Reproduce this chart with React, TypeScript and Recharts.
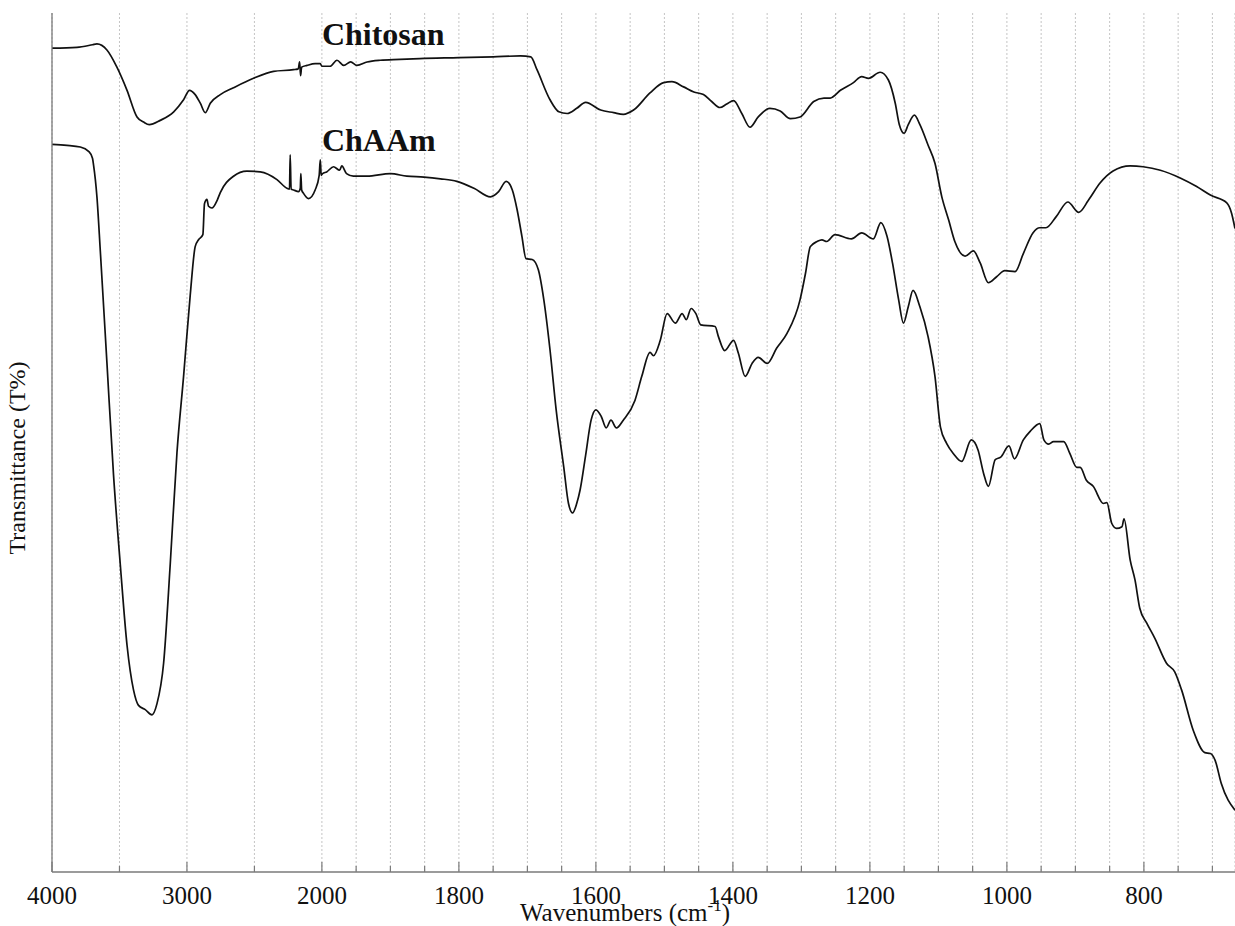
import { CartesianGrid, Label, Line, LineChart, ReferenceDot, XAxis, YAxis } from "recharts";

// FTIR spectra, transmittance (arb. %) vs wavenumber (cm-1)
const chitosanWn = [
  4000, 3815, 3700, 3667, 3593, 3519, 3444, 3370, 3321, 3279,
  3198, 3098, 3025, 2981, 2939, 2901, 2864, 2827, 2753, 2655,
  2507, 2358, 2210, 2175, 2165, 2158, 2150, 2110, 2050, 2012,
  2000, 1988, 1978, 1968, 1958, 1949, 1934, 1915, 1886, 1857,
  1800, 1750, 1710, 1695, 1686, 1667, 1654, 1642, 1628, 1615,
  1593, 1574, 1560, 1545, 1521, 1501, 1489, 1472, 1457, 1443,
  1431, 1419, 1409, 1399, 1387, 1375, 1363, 1346, 1331, 1316,
  1302, 1282, 1267, 1258, 1243, 1224, 1212, 1202, 1185, 1173,
  1163, 1157, 1150, 1144, 1135, 1127, 1115, 1105, 1095, 1085,
  1076, 1061, 1049, 1039, 1027, 1015, 1003, 988, 976, 962,
  952, 943, 928, 911, 895, 881, 864, 845, 820, 801,
  776, 747, 723, 703, 679, 672, 667,
];
const chitosanT = [
  95.9, 96.0, 96.3, 96.4, 95.7, 93.7, 91.0, 87.9, 87.3, 87.0,
  87.5, 88.5, 89.9, 91.0, 90.5, 89.5, 88.4, 89.5, 90.5, 91.3,
  92.4, 93.2, 93.4, 93.5, 94.3, 92.7, 93.7, 93.9, 94.1, 94.1,
  93.8, 93.8, 94.5, 93.9, 94.3, 93.9, 94.3, 94.5, 94.6, 94.7,
  94.8, 94.9, 95.0, 94.9, 93.4, 89.9, 88.5, 88.3, 88.9, 89.6,
  88.7, 88.4, 88.2, 88.7, 90.7, 91.9, 92.0, 91.4, 90.8, 90.5,
  89.7, 89.0, 89.4, 89.8, 88.3, 86.7, 87.9, 88.9, 88.6, 87.7,
  87.9, 89.7, 90.1, 90.1, 91.0, 91.9, 92.6, 92.4, 93.1, 92.2,
  89.5, 87.0, 86.0, 87.0, 88.1, 87.0, 84.6, 82.5, 78.6, 75.9,
  73.4, 71.7, 72.3, 70.9, 68.6, 69.3, 70.0, 69.9, 72.0, 74.4,
  75.0, 75.0, 76.3, 78.0, 76.8, 78.2, 80.2, 81.6, 82.2, 82.1,
  81.7, 80.8, 79.8, 78.8, 77.9, 76.7, 74.9,
];

const chaamWn = [
  4000, 3889, 3790, 3729, 3700, 3692, 3667, 3642, 3593, 3544,
  3494, 3444, 3396, 3359, 3309, 3259, 3222, 3173, 3124, 3074,
  3025, 2976, 2939, 2914, 2882, 2870, 2852, 2840, 2815, 2776,
  2753, 2655, 2556, 2457, 2333, 2259, 2240, 2235, 2228, 2210,
  2173, 2160, 2156, 2150, 2136, 2099, 2050, 2020, 2012, 2005,
  1999, 1993, 1983, 1974, 1971, 1964, 1954, 1934, 1900, 1876,
  1851, 1827, 1803, 1778, 1754, 1742, 1731, 1722, 1715, 1708,
  1702, 1693, 1684, 1676, 1667, 1658, 1647, 1640, 1634, 1628,
  1623, 1615, 1607, 1600, 1592, 1585, 1578, 1570, 1560, 1543,
  1533, 1521, 1516, 1506, 1496, 1484, 1474, 1468, 1461, 1454,
  1447, 1426, 1421, 1412, 1399, 1392, 1382, 1372, 1363, 1350,
  1336, 1321, 1302, 1294, 1287, 1277, 1270, 1263, 1251, 1227,
  1212, 1195, 1184, 1175, 1167, 1158, 1151, 1144, 1137, 1127,
  1115, 1105, 1097, 1088, 1078, 1066, 1052, 1042, 1034, 1027,
  1017, 1009, 997, 989, 976, 966, 952, 946, 939, 932,
  917, 908, 898, 893, 884, 874, 859, 854, 847, 840,
  832, 829, 820, 813, 806, 796, 784, 767, 755, 745,
  728, 711, 703, 696, 687, 667,
];
const chaamT = [
  84.7, 84.6, 84.4, 83.9, 83.1, 82.3, 78.6, 72.3, 59.3, 46.2,
  35.8, 26.4, 21.2, 19.4, 18.9, 18.3, 19.6, 24.3, 35.8, 48.8,
  57.7, 67.1, 72.8, 73.6, 74.2, 77.8, 78.3, 77.5, 77.3, 78.2,
  79.1, 81.0, 81.6, 81.5, 80.6, 79.6, 79.5, 83.5, 79.5, 79.4,
  79.2, 79.6, 81.3, 79.4, 79.0, 78.4, 79.4, 81.1, 82.9, 81.1,
  81.3, 81.5, 82.1, 81.7, 82.2, 81.3, 81.0, 81.0, 81.3, 81.0,
  80.9, 80.7, 80.4, 79.6, 78.6, 79.2, 80.4, 79.4, 77.1, 74.0,
  71.4, 71.3, 70.1, 66.6, 60.8, 53.8, 47.2, 42.9, 41.8, 42.9,
  44.5, 48.5, 52.6, 53.8, 53.0, 51.7, 52.6, 51.7, 52.6, 54.9,
  57.7, 60.5, 60.1, 61.9, 65.0, 63.9, 65.0, 64.3, 65.6, 65.0,
  63.7, 63.5, 62.3, 60.7, 61.9, 60.4, 57.7, 59.2, 59.9, 59.2,
  61.0, 62.7, 66.6, 69.7, 72.8, 73.4, 73.6, 73.4, 74.2, 73.7,
  74.4, 73.7, 75.6, 74.0, 70.9, 66.6, 63.9, 65.8, 67.7, 65.8,
  62.3, 57.7, 51.8, 49.9, 48.7, 47.8, 50.3, 49.1, 46.4, 44.9,
  48.0, 48.3, 49.6, 48.1, 50.3, 51.3, 52.2, 50.3, 49.8, 50.1,
  50.1, 48.7, 47.1, 47.1, 45.6, 44.9, 42.9, 43.0, 40.6, 40.0,
  40.2, 41.1, 36.3, 34.0, 30.7, 29.0, 27.2, 24.3, 23.3, 21.2,
  16.5, 13.9, 13.8, 13.0, 10.3, 7.2,
];

const labelTicks = [4000, 3000, 2000, 1800, 1600, 1400, 1200, 1000, 800];
const gridTicks = [
  4000, 3500, 3000, 2500, 2000, 1950, 1900, 1850, 1800, 1750, 1700, 1650, 1600, 1550,
  1500, 1450, 1400, 1350, 1300, 1250, 1200, 1150, 1100, 1050, 1000, 950, 900, 850,
  800, 750, 700,
];

// the spectrometer axis is compressed above 2000 cm-1
const SPLIT = 0.197;
const toPos = (wn: number) => (wn >= 2000 ? (4000 - wn) * SPLIT : 2000 * SPLIT + (2000 - wn));
const fromPos = (p: number) =>
  Math.round(p <= 2000 * SPLIT ? 4000 - p / SPLIT : 2000 - (p - 2000 * SPLIT));

const chitosanData = chitosanWn.map((wn, i) => ({ pos: toPos(wn), t: chitosanT[i] }));
const chaamData = chaamWn.map((wn, i) => ({ pos: toPos(wn), t: chaamT[i] }));

const FONT = '"Liberation Serif", "Times New Roman", Times, serif';
const AXIS = "#7a7a7a";
const serif = { fontFamily: FONT };

function BottomTick({ x, y, payload }: any) {
  const wn = fromPos(payload.value);
  const major = labelTicks.includes(wn);
  return (
    <g>
      <line x1={x} x2={x} y1={y} y2={y - (major ? 10 : 6)} stroke={AXIS} strokeWidth={1.2} />
      {major && (
        <text x={x} y={y + 32} textAnchor="middle" style={{ ...serif, fontSize: 25 }} fill="#111">
          {wn}
        </text>
      )}
    </g>
  );
}

function TopTick({ x, y, payload }: any) {
  const major = labelTicks.includes(fromPos(payload.value));
  return <line x1={x} x2={x} y1={y} y2={y + (major ? 9 : 5)} stroke={AXIS} strokeWidth={1.2} />;
}

function curveLabel(text: string) {
  return (props: any) => (
    <text
      x={props.viewBox.x}
      y={props.viewBox.y}
      style={{ ...serif, fontWeight: "bold", fontSize: 32 }}
      fill="#111"
    >
      {text}
    </text>
  );
}

export default function App() {
  const xDomain = [0, toPos(667)];
  const ticks = gridTicks.map(toPos);

  return (
    <div style={{ position: "absolute", left: 0, top: 0, width: 1235, height: 926, background: "#fff" }}>
      <LineChart width={1235} height={926} margin={{ top: 13, right: 0, bottom: 0, left: 0 }}>
        <CartesianGrid horizontal={false} stroke="#c4c4c4" strokeDasharray="2 2" />
        <XAxis
          type="number"
          dataKey="pos"
          domain={xDomain}
          ticks={ticks}
          interval={0}
          allowDataOverflow
          height={54}
          axisLine={{ stroke: AXIS, strokeWidth: 1.3 }}
          tickLine={false}
          tickSize={0}
          tickMargin={0}
          tick={<BottomTick />}
        >
          <Label
            content={(props: any) => (
              <text
                x={props.viewBox.x + 573}
                y={props.viewBox.y + 49}
                textAnchor="middle"
                style={{ ...serif, fontSize: 25 }}
                fill="#111"
              >
                Wavenumbers (cm
                <tspan dy={-10} style={{ fontSize: 17 }}>
                  -1
                </tspan>
                <tspan dy={10}>)</tspan>
              </text>
            )}
          />
        </XAxis>
        <XAxis
          xAxisId="top"
          orientation="top"
          type="number"
          dataKey="pos"
          domain={xDomain}
          ticks={ticks}
          interval={0}
          allowDataOverflow
          height={0}
          axisLine={{ stroke: AXIS, strokeWidth: 1.3 }}
          tickLine={false}
          tickSize={0}
          tickMargin={0}
          tick={<TopTick />}
        />
        <YAxis
          type="number"
          domain={[0, 100]}
          width={52}
          tick={false}
          tickLine={false}
          axisLine={{ stroke: AXIS, strokeWidth: 1.3 }}
        >
          <Label
            content={() => (
              <text
                x={19}
                y={458}
                transform="rotate(-90 19 458)"
                textAnchor="middle"
                dominantBaseline="middle"
                style={{ ...serif, fontSize: 24 }}
                fill="#111"
              >
                Transmittance (T%)
              </text>
            )}
          />
        </YAxis>
        <Line
          data={chitosanData}
          dataKey="t"
          type="monotone"
          stroke="#111"
          strokeWidth={1.7}
          dot={false}
          isAnimationActive={false}
        />
        <Line
          data={chaamData}
          dataKey="t"
          type="monotone"
          stroke="#111"
          strokeWidth={1.7}
          dot={false}
          isAnimationActive={false}
        />
        <ReferenceDot x={toPos(2000)} y={96.3} r={0} fill="none" stroke="none" label={curveLabel("Chitosan")} />
        <ReferenceDot x={toPos(2000)} y={83.9} r={0} fill="none" stroke="none" label={curveLabel("ChAAm")} />
      </LineChart>
    </div>
  );
}
